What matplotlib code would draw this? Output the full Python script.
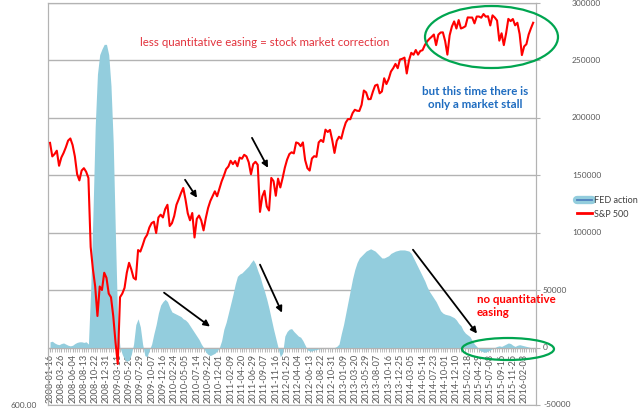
import matplotlib
matplotlib.use('Agg')
import matplotlib.pyplot as plt
from matplotlib.lines import Line2D
from matplotlib.patches import Ellipse
from matplotlib.ticker import MultipleLocator, NullLocator
from matplotlib.transforms import blended_transform_factory
import numpy as np

plt.rcParams['font.family'] = ['Lato', 'DejaVu Sans']

# weekly index (0 = 2008-01-16), sampled every 2 weeks
weeks = np.arange(0, 429, 2)

# S&P 500 weekly close (left log axis)
sp500 = [
    # 2008
    1400, 1340, 1350, 1365, 1300, 1335, 1355, 1380, 1410, 1420, 1390, 1340, 1265,
    1240, 1280, 1290, 1275, 1250, 1000, 930, 880, 800, 880, 870, 920, 905,
    # 2009
    860, 850, 800, 735, 685, 850, 860, 876, 920, 950, 930, 905, 900,
    990, 985, 1005, 1028, 1040, 1065, 1080, 1085, 1046, 1100, 1110, 1100, 1130,
    # 2010
    1146, 1070, 1080, 1105, 1146, 1167, 1190, 1210, 1166, 1115, 1090, 1116, 1031,
    1095, 1107, 1089, 1055, 1098, 1134, 1160, 1178, 1197, 1178, 1206, 1236, 1259,
    # 2011
    1286, 1297, 1321, 1307, 1320, 1298, 1335, 1330, 1347, 1340, 1315, 1265, 1307,
    1317, 1304, 1120, 1177, 1199, 1140, 1125, 1250, 1237, 1180, 1247, 1212, 1249,
    # 2012
    1292, 1326, 1350, 1358, 1353, 1402, 1398, 1385, 1402, 1324, 1290, 1280, 1331,
    1341, 1338, 1402, 1413, 1404, 1461, 1450, 1460, 1412, 1355, 1409, 1428, 1419,
    # 2013
    1461, 1495, 1512, 1511, 1541, 1558, 1553, 1552, 1583, 1658, 1648, 1612, 1613,
    1652, 1685, 1690, 1643, 1653, 1725, 1693, 1721, 1763, 1782, 1807, 1782, 1833,
    # 2014
    1837, 1844, 1752, 1828, 1873, 1861, 1890, 1862, 1884, 1889, 1920, 1943, 1959,
    1972, 1987, 1920, 1986, 2000, 2001, 1946, 1862, 1982, 2039, 2073, 2026, 2082,
    # 2015
    2026, 2032, 2041, 2100, 2099, 2099, 2060, 2106, 2106, 2098, 2123, 2105, 2108,
    2046, 2114, 2099, 2079, 1948, 1995, 1920, 1994, 2090, 2075, 2089, 2047, 2064,
    # 2016
    1990, 1859, 1912, 1926, 1987, 2027, 2064,
]

# FED action (right axis)
fed_action = [
    # 2008
    5000, 5500, 4000, 3000, 2500, 3500, 4000, 3000, 2000, 1500, 2000, 3500, 4500,
    5000, 5000, 4500, 5000, 3000, 50000, 115000, 192000, 238000, 255000, 260000, 264000, 264000,
    # 2009
    255000, 228000, 178000, 95000, 20000, 0, -6000, -10000, -12000, -11000, -6000, 3000, 20000,
    25000, 18000, 3000, -7000, -8000, -2000, 3000, 12000, 20000, 30000, 37000, 40000, 42000,
    # 2010
    40000, 35000, 31000, 30000, 29000, 28000, 27000, 25000, 24000, 22000, 19000, 16000, 13000,
    10000, 7000, 3000, 0, -4000, -6000, -7000, -6000, -5000, -3000, 0, 6000, 16000,
    # 2011
    22000, 30000, 38000, 46000, 55000, 62000, 64000, 65000, 67000, 69000, 71000, 74000, 76500,
    73000, 67000, 62000, 55000, 49000, 42000, 34000, 25000, 16000, 8000, 0, -8000, -5000,
    # 2012
    10000, 14000, 16000, 16500, 14000, 12000, 10000, 9000, 6000, 2000, -2000, -3000, -3000,
    -2000, -2000, -1000, -1000, 0, 0, 0, 0, 0, 0, 1000, 3000, 12000,
    # 2013
    20000, 30000, 40000, 50000, 60000, 68000, 74000, 78000, 80000, 82000, 84000, 85000, 86000,
    85000, 84000, 82000, 80000, 78000, 78000, 79000, 80000, 82000, 83000, 84000, 84500, 85000,
    # 2014
    85000, 85000, 84500, 84000, 82000, 78000, 74000, 70000, 66000, 62000, 58000, 53000, 49000,
    46000, 43000, 40000, 36000, 32000, 30000, 29000, 28500, 28000, 27000, 26000, 24000, 21000,
    # 2015
    19000, 15000, 12500, 11000, 9500, 6000, 3000, 1000, -2000, -3000, -4000, -4000, -3000,
    -2000, -1000, 0, 1000, 1500, 1000, 2000, 3000, 4000, 3500, 2000, 1000, 2000,
    # 2016
    2500, 2000, 1500, 1000, 500, 0, 0,
]

date_labels = [
    '2008-01-16', '2008-03-26', '2008-06-04', '2008-08-13', '2008-10-22', '2008-12-31',
    '2009-03-11', '2009-05-20', '2009-07-29', '2009-10-07', '2009-12-16', '2010-02-24',
    '2010-05-05', '2010-07-14', '2010-09-22', '2010-12-01', '2011-02-09', '2011-04-20',
    '2011-06-29', '2011-09-07', '2011-11-16', '2012-01-25', '2012-04-04', '2012-06-13',
    '2012-08-22', '2012-10-31', '2013-01-09', '2013-03-20', '2013-05-29', '2013-08-07',
    '2013-10-16', '2013-12-25', '2014-03-05', '2014-05-14', '2014-07-23', '2014-10-01',
    '2014-12-10', '2015-02-18', '2015-04-29', '2015-07-08', '2015-09-16', '2015-11-25',
    '2016-02-03',
]
label_weeks = np.arange(0, 421, 10)
fed_ticks = [-50000, 0, 50000, 100000, 150000, 200000, 250000, 300000]

grey = '#B3B3B3'
txt_grey = '#595959'

fig = plt.figure(figsize=(6.4, 4.13), dpi=100)
ax = fig.add_axes([0.075, 0.0194, 0.7625, 0.9733])

# FED action area
ax.fill_between(weeks, fed_action, 0, color='#93CDDD', lw=0, zorder=2)
ax.set_ylim(-50000, 300000)
ax.set_xlim(-1.8, 430.5)
ax.set_yticks(fed_ticks)
ax.set_yticklabels([''] * len(fed_ticks))
ax.yaxis.grid(True, color=grey, lw=1)
ax.set_axisbelow(True)

ax.spines['bottom'].set_position(('data', 0))
for s in ax.spines.values():
    s.set_color(grey)
ax.set_xticks(label_weeks)
ax.set_xticklabels(date_labels)
ax.xaxis.set_minor_locator(MultipleLocator(2))
ax.tick_params(axis='x', which='both', rotation=90, labelsize=6.6, colors=grey,
               labelcolor=txt_grey, length=3, pad=1.5)

# S&P 500 on log axis
ax2 = ax.twinx()
ax.yaxis.tick_right()
ax.tick_params(axis='y', length=3, colors=grey)
ax2.plot(weeks, sp500, color='#FF0000', lw=1.5, zorder=3)
ax2.set_yscale('log')
ax2.set_ylim(600, 2200)
ax2.yaxis.tick_left()
ax2.yaxis.set_minor_locator(NullLocator())
ax2.set_yticks([600])
ax2.set_yticklabels(['600.00'])
ax2.tick_params(axis='y', length=0, pad=8, labelsize=6, labelcolor=txt_grey)
for s in ax2.spines.values():
    s.set_color(grey)

# right axis labels (two alignments as in the original)
tr = blended_transform_factory(ax.transAxes, ax.transData)
for v in fed_ticks:
    xpos = 1.0738 if v >= 100000 else 1.0143
    ax.text(xpos, v, str(v), transform=tr, ha='left', va='center',
            fontsize=6, color=txt_grey)

# annotations
ax2.text(190, 266000, 'less quantitative easing = stock market correction',
         transform=ax.transData, ha='center', va='center', fontsize=8.3, color='#E2323C')
ax2.text(377, 228000, 'but this time there is\nonly a market stall',
         transform=ax.transData, ha='center', va='top', fontsize=8.3,
         fontweight='bold', color='#1E6CC0', linespacing=1.3)
ax2.text(378, 46500, 'no quantitative\neasing', transform=ax.transData,
         ha='left', va='top', fontsize=8.3, fontweight='bold', color='#FF0000',
         linespacing=1.2)

arrows = [
    ((119.6, 146100), (130.2, 130400)),
    ((178.9, 182600), (193.1, 156500)),
    ((101.0, 47800), (141.7, 18300)),
    ((186.0, 72200), (205.5, 30400)),
    ((321.5, 85200), (378.2, 12200)),
]
for tail, head in arrows:
    ax2.annotate('', xy=head, xytext=tail, xycoords=ax.transData,
                 textcoords=ax.transData,
                 arrowprops=dict(arrowstyle='-|>', color='black', lw=1.3,
                                 mutation_scale=9, shrinkA=0, shrinkB=0))

for cx, cy, w, h in [(0.9088, 0.9154, 0.2725, 0.1542), (0.9426, 0.1393, 0.1885, 0.0547)]:
    ax2.add_patch(Ellipse((cx, cy), w, h, transform=ax2.transAxes, fill=False,
                          edgecolor='#00A550', lw=1.6, clip_on=False, zorder=5))

handles = [(Line2D([], [], color='#93CDDD', lw=6, solid_capstyle='round'),
            Line2D([], [], color='#4F81BD', lw=1.3)),
           Line2D([], [], color='#FF0000', lw=2)]
fig.legend(handles, ['FED action', 'S&P 500'], loc='upper left',
           bbox_to_anchor=(0.9016, 0.5254), frameon=False, fontsize=6.5,
           handlelength=1.7, handletextpad=0.15, labelspacing=0.5,
           borderpad=0, borderaxespad=0, labelcolor='#404040')

fig.savefig('out.png', dpi=100)
